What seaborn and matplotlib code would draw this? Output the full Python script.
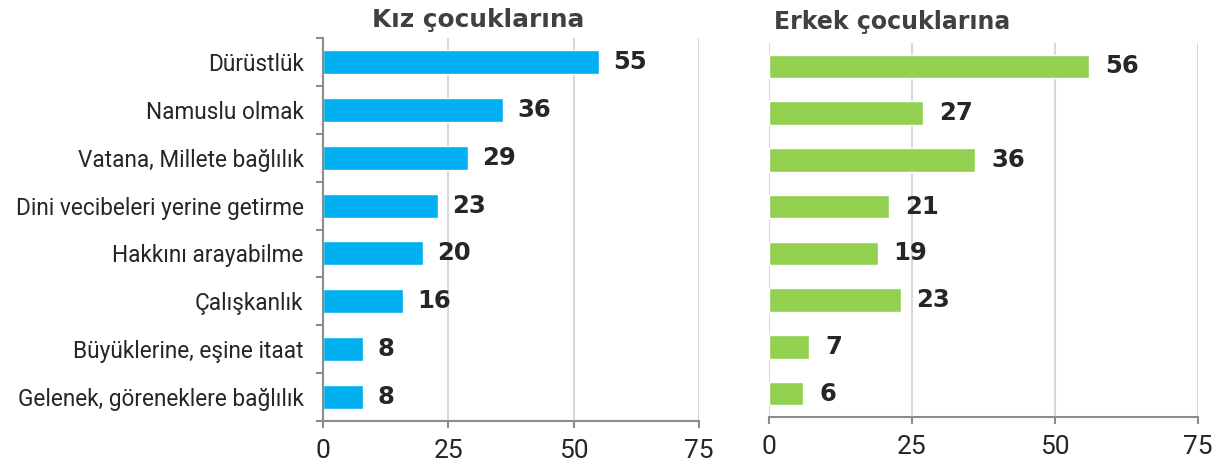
import matplotlib
matplotlib.use("Agg")
import matplotlib.pyplot as plt
import pandas as pd
import seaborn as sns

# Veriler
categories = [
    "Dürüstlük",
    "Namuslu olmak",
    "Vatana, Millete bağlılık",
    "Dini vecibeleri yerine getirme",
    "Hakkını arayabilme",
    "Çalışkanlık",
    "Büyüklerine, eşine itaat",
    "Gelenek, göreneklere bağlılık",
]
girls = [55, 36, 29, 23, 20, 16, 8, 8]
boys = [56, 27, 36, 21, 19, 23, 7, 6]
panel_titles = ["Kız çocuklarına", "Erkek çocuklarına"]
x_ticks = [0, 25, 50, 75]

BLUE = "#00B0F0"
GREEN = "#92D050"
SPINE = "#8C8C8C"
GRID = "#D9D9D9"

sns.set_theme(style="white")
plt.rcParams["font.family"] = ["Roboto", "DejaVu Sans"]

df = pd.DataFrame({"Kategori": categories, "Kiz": girls, "Erkek": boys})

W, H = 1224, 470
fig = plt.figure(figsize=(W / 100, H / 100), dpi=100)


def px_rect(x0, y_top, x1, y_bot):
    return [x0 / W, 1 - y_bot / H, (x1 - x0) / W, (y_bot - y_top) / H]


ax1 = fig.add_axes(px_rect(323, 38, 699, 421))
ax2 = fig.add_axes(px_rect(769, 43, 1198, 417))


def draw(ax, col, color, show_labels):
    sns.barplot(data=df, x=col, y="Kategori", color=color, width=0.5,
                orient="h", ax=ax, saturation=1)
    ax.set_xlim(0, 75)
    ax.set_ylim(len(categories) - 0.5, -0.5)
    ax.set_xticks(x_ticks)
    ax.set_xlabel("")
    ax.set_ylabel("")
    ax.grid(axis="x", color=GRID, linewidth=1.5)
    ax.set_axisbelow(True)
    for s in ["top", "right"]:
        ax.spines[s].set_visible(False)
    ax.spines["bottom"].set_color(SPINE)
    ax.spines["bottom"].set_linewidth(1.5)
    ax.tick_params(axis="x", direction="out", length=5, width=1.5,
                   color=SPINE, labelsize=19, labelcolor="#262626", pad=8,
                   bottom=True)
    for bar, v in zip(ax.patches, df[col]):
        ax.text(bar.get_width() + 2.8, bar.get_y() + bar.get_height() / 2,
                f"{v}", va="center", ha="left", fontsize=17.5,
                fontweight="heavy", color="#262626",
                family=["DejaVu Sans"])
    if show_labels:
        ax.spines["left"].set_color(SPINE)
        ax.spines["left"].set_linewidth(1.5)
        ax.tick_params(axis="y", which="major", length=0, pad=14,
                       labelsize=16.3, labelcolor="#262626")
        ax.set_yticks([i + 0.5 for i in range(-1, len(categories))], minor=True)
        ax.tick_params(axis="y", which="minor", direction="out", length=5,
                       width=1.5, color=SPINE, left=True)
    else:
        ax.spines["left"].set_visible(False)
        ax.set_yticks([])


draw(ax1, "Kiz", BLUE, True)
draw(ax2, "Erkek", GREEN, False)

fig.text(478 / W, 1 - 20 / H, panel_titles[0], ha="center", va="center",
         fontsize=17.8, fontweight="bold", color="#404040",
         family=["DejaVu Sans"])
fig.text(892 / W, 1 - 22 / H, panel_titles[1], ha="center", va="center",
         fontsize=17, fontweight="bold", color="#404040",
         family=["DejaVu Sans"])

fig.savefig("out.png", dpi=100)
